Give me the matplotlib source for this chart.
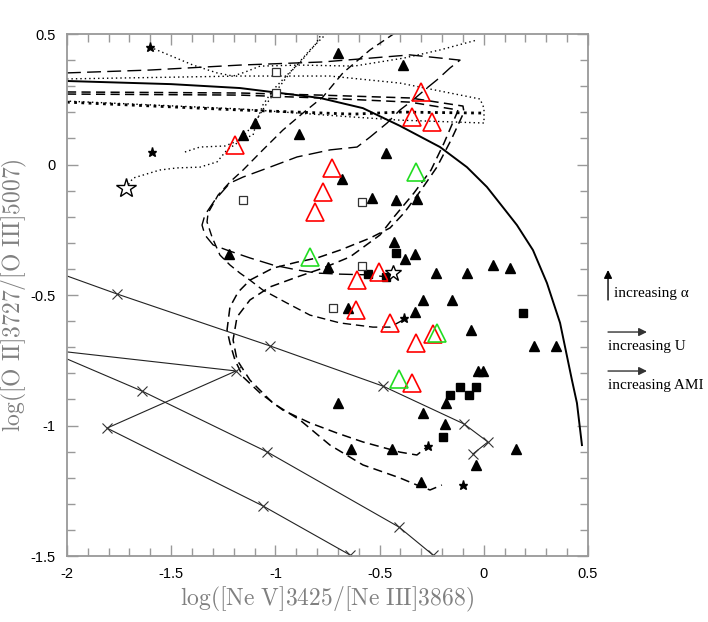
import matplotlib
matplotlib.use("Agg")
import matplotlib.pyplot as plt
from matplotlib.ticker import MultipleLocator

plt.rcParams['axes.unicode_minus'] = False
plt.rcParams['mathtext.fontset'] = 'cm'

# ---- observed objects ----
tri_x = [-0.700, -0.388, -1.098, -1.155, -0.887, -0.469, -0.680, -0.536, -0.421, -0.321,
         -1.222, -0.748, -0.431, -0.378, -0.330, -0.652, -0.229, -0.081, 0.044, 0.126,
         -0.292, -0.153, -0.330, -0.061, 0.241, 0.346, -0.028, -0.004, -0.181, -0.292,
         -0.186, 0.154, -0.037, -0.301, -0.700, -0.637, -0.440]
tri_y = [0.427, 0.381, 0.159, 0.113, 0.117, 0.044, -0.056, -0.128, -0.136, -0.132,
         -0.343, -0.393, -0.297, -0.362, -0.343, -0.550, -0.416, -0.416, -0.385, -0.397,
         -0.519, -0.519, -0.565, -0.634, -0.695, -0.695, -0.791, -0.791, -0.914, -0.952,
         -0.994, -1.090, -1.151, -1.216, -0.914, -1.090, -1.090]

sq_x = [-0.421, -0.556, -0.469, 0.188, -0.114, -0.037, -0.162, -0.071, -0.196]
sq_y = [-0.339, -0.420, -0.431, -0.569, -0.852, -0.852, -0.883, -0.883, -1.044]

osq_x = [-0.997, -0.997, -1.155, -0.584, -0.584, -0.724]
osq_y = [0.354, 0.274, -0.136, -0.144, -0.389, -0.550]

red_x = [-1.194, -0.728, -0.772, -0.810, -0.301, -0.345, -0.249, -0.608, -0.503, -0.613,
         -0.450, -0.325, -0.244, -0.345]
red_y = [0.075, -0.013, -0.105, -0.182, 0.278, 0.182, 0.163, -0.443, -0.412, -0.557,
         -0.607, -0.684, -0.649, -0.837]

green_x = [-0.325, -0.834, -0.225, -0.407]
green_y = [-0.029, -0.354, -0.646, -0.822]

bigstar_x = [-1.717]
bigstar_y = [-0.090]
ostar_x = [-0.436]
ostar_y = [-0.416]
star_x = [-1.602, -1.592, -0.383, -0.268, -0.100]
star_y = [0.450, 0.048, -0.588, -1.079, -1.228]

# ---- model grids (solid lines with crosses) ----
gridA_x = [-2.0, -1.760, -1.026, -0.484, -0.095, 0.020, -0.052]
gridA_y = [-0.427, -0.496, -0.695, -0.849, -0.994, -1.063, -1.109]
gridB_x = [-2.0, -1.189, -1.808, -1.060, -0.642]
gridB_y = [-0.718, -0.791, -1.010, -1.308, -1.496]
gridC_x = [-2.0, -1.640, -1.040, -0.407, -0.244]
gridC_y = [-0.745, -0.868, -1.101, -1.389, -1.496]

# ---- dividing curve ----
curve_x = [-2.0, -1.5, -1.170, -0.786, -0.580, -0.402, -0.210, -0.081, 0.015, 0.102,
           0.159, 0.236, 0.303, 0.366, 0.423, 0.447, 0.471]
curve_y = [0.320, 0.308, 0.293, 0.255, 0.216, 0.148, 0.067, -0.010, -0.086, -0.174,
           -0.232, -0.328, -0.454, -0.607, -0.826, -0.914, -1.075]

# ---- evolutionary tracks ----
d1_x = [-2.000, -1.602, -1.170, -0.772, -0.354, -0.114, -0.162, -0.225, -0.273, -0.340,
        -0.402, -0.464, -0.546, -0.608, -0.738, -0.896, -1.026, -1.155, -1.218, -1.290,
        -1.338, -1.352, -1.338, -1.299, -1.232, -1.122, -1.012, -0.896, -0.800, -0.690,
        -0.546, -0.464]
d1_y = [0.351, 0.362, 0.381, 0.393, 0.420, 0.400, 0.370, 0.324, 0.293, 0.247,
        0.209, 0.159, 0.105, 0.067, 0.056, 0.029, -0.010, -0.048, -0.071, -0.136,
        -0.193, -0.232, -0.270, -0.308, -0.328, -0.358, -0.385, -0.404, -0.416, -0.420,
        -0.423, -0.431]

l1_x = [-0.426, -0.546, -0.676, -0.772, -0.868, -0.964, -1.060, -1.155, -1.218, -1.275,
        -1.323, -1.328, -1.304, -1.266, -1.218, -1.170, -1.122, -1.060, -0.944, -0.834,
        -0.690, -0.532, -0.450, -0.388]
l1_y = [0.504, 0.439, 0.351, 0.259, 0.197, 0.132, 0.056, -0.021, -0.067, -0.117,
        -0.186, -0.220, -0.278, -0.347, -0.385, -0.416, -0.443, -0.481, -0.531, -0.577,
        -0.607, -0.623, -0.623, -0.596]

e1_x = [-2.000, -1.170, -0.786, -0.354, -0.100, -0.095, -0.157, -0.225, -0.301, -0.383,
        -0.450, -0.546, -0.690, -0.800, -0.896, -1.012, -1.122, -1.179, -1.218, -1.232,
        -1.218, -1.194, -1.155, -1.074, -0.964, -0.834, -0.704, -0.580, -0.402, -0.321,
        -0.273]
e1_y = [0.278, 0.274, 0.266, 0.255, 0.224, 0.201, 0.094, -0.010, -0.098, -0.186,
        -0.243, -0.282, -0.328, -0.358, -0.374, -0.397, -0.443, -0.489, -0.546, -0.634,
        -0.684, -0.749, -0.814, -0.875, -0.941, -0.990, -1.029, -1.063, -1.102, -1.113,
        -1.082]

e2_x = [-2.000, -1.170, -0.786, -0.354, -0.124, -0.129, -0.191, -0.253, -0.335, -0.431,
        -0.498, -0.642, -0.772, -0.896, -1.026, -1.122, -1.184, -1.203, -1.184, -1.122,
        -1.012, -0.882, -0.738, -0.580, -0.402, -0.321, -0.258, -0.201]
e2_y = [0.270, 0.266, 0.255, 0.239, 0.209, 0.197, 0.082, -0.021, -0.109, -0.201,
        -0.270, -0.354, -0.397, -0.431, -0.469, -0.519, -0.584, -0.672, -0.749, -0.826,
        -0.914, -0.979, -1.075, -1.151, -1.201, -1.228, -1.247, -1.228]

dot1_x = [-1.602, -1.395, -1.280, -1.203, -1.146, -1.074, -0.882, -0.623, -0.383, -0.210, -0.033]
dot1_y = [0.450, 0.381, 0.351, 0.339, 0.354, 0.377, 0.381, 0.377, 0.408, 0.439, 0.477]

dot2_x = [-2.0, -1.170, -0.738, -0.402, -0.162, -0.018, 0.001, 0.001, -0.402, -0.628, -1.170, -2.0]
dot2_y = [0.328, 0.339, 0.339, 0.312, 0.274, 0.251, 0.216, 0.159, 0.170, 0.182, 0.213, 0.243]

dot3_x = [-2.0, -1.170, -0.628, -0.402, 0.001]
dot3_y = [0.239, 0.209, 0.193, 0.201, 0.197]

dot4_x = [-1.717, -1.683, -1.554, -1.472, -1.362, -1.280, -1.232, -1.184, -1.107, -1.040,
          -0.930, -0.834, -0.752]
dot4_y = [-0.090, -0.052, -0.021, -0.013, -0.010, 0.010, 0.056, 0.082, 0.151, 0.236,
          0.351, 0.439, 0.504]

dot5_x = [-1.434, -1.362, -1.242, -1.170, -1.107, -1.088, -1.060, -1.012, -0.944, -0.872,
          -0.810, -0.776]
dot5_y = [0.048, 0.067, 0.071, 0.094, 0.113, 0.170, 0.228, 0.285, 0.343, 0.400,
          0.458, 0.504]

xticks = [-2, -1.5, -1, -0.5, 0, 0.5]
xticklabels = ['-2', '-1.5', '-1', '-0.5', '0', '0.5']
yticks = [-1.5, -1, -0.5, 0, 0.5]
yticklabels = ['-1.5', '-1', '-0.5', '0', '0.5']


def main():
    fig = plt.figure(figsize=(7.08, 6.22), dpi=100)
    ax = fig.add_axes([0.0946, 0.1061, 0.7359, 0.8392])

    # tracks
    ax.plot(d1_x, d1_y, color='k', lw=1.0, dashes=(10, 4.5))
    ax.plot(l1_x, l1_y, color='k', lw=1.0, dashes=(6, 3.5))
    ax.plot(e1_x, e1_y, color='k', lw=1.1, dashes=(6, 3.5))
    ax.plot(e2_x, e2_y, color='k', lw=1.1, dashes=(6, 3.5))
    for xs, ys in [(dot1_x, dot1_y), (dot2_x, dot2_y), (dot4_x, dot4_y), (dot5_x, dot5_y)]:
        ax.plot(xs, ys, color='k', lw=1.0, dashes=(1, 2.2))
    ax.plot(dot3_x, dot3_y, color='k', lw=2.0, dashes=(1, 1.6))

    # dividing curve
    ax.plot(curve_x, curve_y, color='k', lw=1.4)

    # model grids
    for xs, ys in [(gridA_x, gridA_y), (gridB_x, gridB_y), (gridC_x, gridC_y)]:
        ax.plot(xs, ys, color='#222222', lw=0.8)
        ax.plot(xs[1:], ys[1:], ls='none', marker='x', ms=7, mew=0.8, color='#333333')

    # objects
    ax.plot(tri_x, tri_y, ls='none', marker='^', ms=6.5, color='k')
    ax.plot(sq_x, sq_y, ls='none', marker='s', ms=5.5, color='k')
    ax.plot(osq_x, osq_y, ls='none', marker='s', ms=6, mfc='white', mec='#333333', mew=0.9)
    ax.plot(red_x, red_y, ls='none', marker='^', ms=13, mfc='none', mec='red', mew=1.2)
    ax.plot(green_x, green_y, ls='none', marker='^', ms=13, mfc='none', mec='#22dd22', mew=1.2)
    ax.plot(bigstar_x, bigstar_y, ls='none', marker='*', ms=15, mfc='white', mec='k', mew=1.0)
    ax.plot(ostar_x, ostar_y, ls='none', marker='*', ms=12, mfc='white', mec='k', mew=1.0)
    ax.plot(star_x, star_y, ls='none', marker='*', ms=6.5, color='k')

    ax.set_xlim(-2, 0.5)
    ax.set_ylim(-1.5, 0.5)
    ax.set_xticks(xticks)
    ax.set_xticklabels(xticklabels)
    ax.set_yticks(yticks)
    ax.set_yticklabels(yticklabels)
    ax.xaxis.set_minor_locator(MultipleLocator(0.1))
    ax.yaxis.set_minor_locator(MultipleLocator(0.1))
    ax.tick_params(which='both', direction='in', top=True, right=True, color='#999999', width=1.0)
    ax.tick_params(which='major', length=8, labelsize=10.5, pad=8)
    ax.tick_params(which='minor', length=6)
    for lab in ax.get_xticklabels() + ax.get_yticklabels():
        lab.set_family('Liberation Sans')
    for sp in ax.spines.values():
        sp.set_color('#999999')
        sp.set_linewidth(1.3)

    ax.set_xlabel(r'$\mathrm{log([Ne\ V]3425/[Ne\ III]3868)}$', fontsize=17, color='#808080', labelpad=3)
    ax.set_ylabel(r'$\mathrm{log([O\ II]3727/[O\ III]5007)}$', fontsize=17, color='#808080', labelpad=1)

    # legend arrows on the right
    ap = dict(arrowstyle='-|>', color='k', lw=1.0, mutation_scale=12, shrinkA=0, shrinkB=0)
    fig.add_artist(plt.Annotation('', xy=(0.8588, 0.5659), xytext=(0.8588, 0.5177),
                                  xycoords='figure fraction', textcoords='figure fraction', arrowprops=ap))
    fig.text(0.8672, 0.5289, 'increasing α', family='Liberation Serif', fontsize=11, va='center')
    for yy, txt in [(0.4662, 'increasing U'), (0.4035, 'increasing AMI')]:
        fig.add_artist(plt.Annotation('', xy=(0.9138, yy), xytext=(0.8588, yy),
                                      xycoords='figure fraction', textcoords='figure fraction',
                                      arrowprops=dict(ap, color='#333333')))
        fig.text(0.8588, yy - 0.024, txt, family='Liberation Serif', fontsize=11, va='center')

    fig.savefig('out.png', dpi=100)


if __name__ == "__main__":
    main()
